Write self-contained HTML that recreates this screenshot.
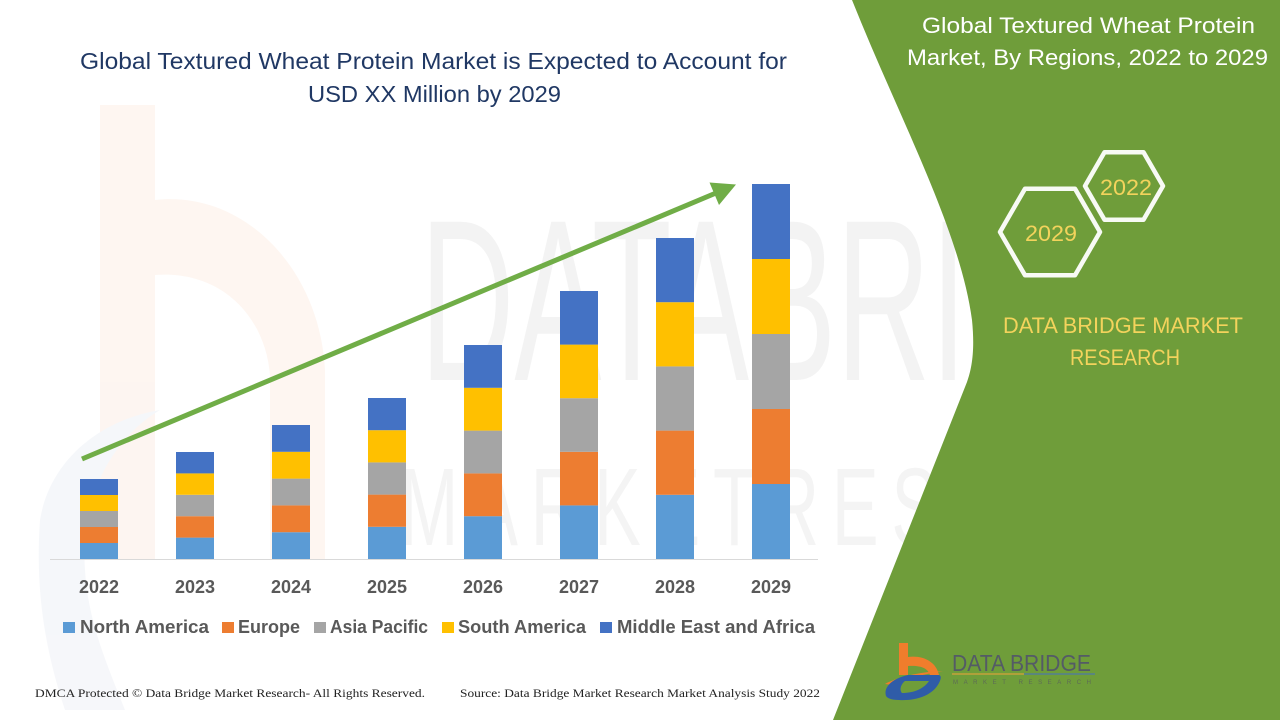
<!DOCTYPE html>
<html>
<head>
<meta charset="utf-8">
<style>
html,body{margin:0;padding:0;background:#fff;}
svg{display:block;}
</style>
</head>
<body>
<svg width="1280" height="720" viewBox="0 0 1280 720" xmlns="http://www.w3.org/2000/svg">
  <rect width="1280" height="720" fill="#ffffff"/>
  <!-- faint watermark -->
  <g opacity="0.55">
    <path d="M100,105 h55 v95 c90,-10 165,70 170,170 l0,190 h-55 l0,-185 c-5,-60 -50,-105 -115,-100 l0,285 h-55 z" fill="#fdeee6"/>
    <path d="M40,520 c10,-60 60,-100 120,-110 c-50,30 -80,90 -75,160 c3,50 20,90 40,140 h-60 c-20,-60 -30,-120 -25,-190 z" fill="#eef1f6"/>
  </g>
  <g font-family="Liberation Sans, sans-serif" fill="#f2f2f2" font-size="230" opacity="0.9">
    <text x="420" y="380" textLength="830" lengthAdjust="spacingAndGlyphs">DATABRIDGE</text>
  </g>
  <g font-family="Liberation Sans, sans-serif" fill="#f3f3f3" font-size="110" opacity="0.9">
    <text x="400" y="545" textLength="860" lengthAdjust="spacingAndGlyphs" letter-spacing="20">MARKETRESEARCH</text>
  </g>

  <!-- green panel -->
  <path d="M852,0 C900,120 960,230 972,320 C975,350 972,368 967,382 L833,720 L1280,720 L1280,0 Z" fill="#6f9d3a"/>

  <!-- main title -->
  <g font-family="Liberation Sans, sans-serif" fill="#203864" font-size="23">
    <text x="80" y="69" textLength="707" lengthAdjust="spacingAndGlyphs">Global Textured Wheat Protein Market is Expected to Account for</text>
    <text x="308" y="102" textLength="253" lengthAdjust="spacingAndGlyphs">USD XX Million by 2029</text>
  </g>

  <!-- axis line -->
  <line x1="50" y1="559.5" x2="818" y2="559.5" stroke="#d9d9d9" stroke-width="1"/>

  <!-- bars -->
  <g>
    <!-- 2022 seg 16 -->
    <rect x="80" y="543" width="38" height="16" fill="#5b9bd5"/>
    <rect x="80" y="527" width="38" height="16" fill="#ed7d31"/>
    <rect x="80" y="511" width="38" height="16" fill="#a5a5a5"/>
    <rect x="80" y="495" width="38" height="16" fill="#ffc000"/>
    <rect x="80" y="479" width="38" height="16" fill="#4472c4"/>
    <!-- 2023 seg 21.4 -->
    <rect x="176" y="537.6" width="38" height="21.4" fill="#5b9bd5"/>
    <rect x="176" y="516.2" width="38" height="21.4" fill="#ed7d31"/>
    <rect x="176" y="494.8" width="38" height="21.4" fill="#a5a5a5"/>
    <rect x="176" y="473.4" width="38" height="21.4" fill="#ffc000"/>
    <rect x="176" y="452" width="38" height="21.4" fill="#4472c4"/>
    <!-- 2024 seg 26.8 -->
    <rect x="272" y="532.2" width="38" height="26.8" fill="#5b9bd5"/>
    <rect x="272" y="505.4" width="38" height="26.8" fill="#ed7d31"/>
    <rect x="272" y="478.6" width="38" height="26.8" fill="#a5a5a5"/>
    <rect x="272" y="451.8" width="38" height="26.8" fill="#ffc000"/>
    <rect x="272" y="425" width="38" height="26.8" fill="#4472c4"/>
    <!-- 2025 seg 32.2 -->
    <rect x="368" y="526.8" width="38" height="32.2" fill="#5b9bd5"/>
    <rect x="368" y="494.6" width="38" height="32.2" fill="#ed7d31"/>
    <rect x="368" y="462.4" width="38" height="32.2" fill="#a5a5a5"/>
    <rect x="368" y="430.2" width="38" height="32.2" fill="#ffc000"/>
    <rect x="368" y="398" width="38" height="32.2" fill="#4472c4"/>
    <!-- 2026 seg 42.8 -->
    <rect x="464" y="516.2" width="38" height="42.8" fill="#5b9bd5"/>
    <rect x="464" y="473.4" width="38" height="42.8" fill="#ed7d31"/>
    <rect x="464" y="430.6" width="38" height="42.8" fill="#a5a5a5"/>
    <rect x="464" y="387.8" width="38" height="42.8" fill="#ffc000"/>
    <rect x="464" y="345" width="38" height="42.8" fill="#4472c4"/>
    <!-- 2027 seg 53.6 -->
    <rect x="560" y="505.4" width="38" height="53.6" fill="#5b9bd5"/>
    <rect x="560" y="451.8" width="38" height="53.6" fill="#ed7d31"/>
    <rect x="560" y="398.2" width="38" height="53.6" fill="#a5a5a5"/>
    <rect x="560" y="344.6" width="38" height="53.6" fill="#ffc000"/>
    <rect x="560" y="291" width="38" height="53.6" fill="#4472c4"/>
    <!-- 2028 seg 64.2 -->
    <rect x="656" y="494.8" width="38" height="64.2" fill="#5b9bd5"/>
    <rect x="656" y="430.6" width="38" height="64.2" fill="#ed7d31"/>
    <rect x="656" y="366.4" width="38" height="64.2" fill="#a5a5a5"/>
    <rect x="656" y="302.2" width="38" height="64.2" fill="#ffc000"/>
    <rect x="656" y="238" width="38" height="64.2" fill="#4472c4"/>
    <!-- 2029 seg 75 -->
    <rect x="752" y="484" width="38" height="75" fill="#5b9bd5"/>
    <rect x="752" y="409" width="38" height="75" fill="#ed7d31"/>
    <rect x="752" y="334" width="38" height="75" fill="#a5a5a5"/>
    <rect x="752" y="259" width="38" height="75" fill="#ffc000"/>
    <rect x="752" y="184" width="38" height="75" fill="#4472c4"/>
  </g>

  <!-- arrow -->
  <line x1="82" y1="459" x2="716" y2="193" stroke="#70ad47" stroke-width="5"/>
  <polygon points="736,184.5 709.5,182.5 719,205" fill="#70ad47"/>

  <!-- year labels -->
  <g font-family="Liberation Sans, sans-serif" font-weight="bold" font-size="18" fill="#595959" text-anchor="middle">
    <text x="99" y="593">2022</text>
    <text x="195" y="593">2023</text>
    <text x="291" y="593">2024</text>
    <text x="387" y="593">2025</text>
    <text x="483" y="593">2026</text>
    <text x="579" y="593">2027</text>
    <text x="675" y="593">2028</text>
    <text x="771" y="593">2029</text>
  </g>

  <!-- legend -->
  <g font-family="Liberation Sans, sans-serif" font-weight="bold" font-size="18" fill="#595959">
    <rect x="63" y="622" width="12" height="11" fill="#5b9bd5"/>
    <text x="80" y="633" textLength="129" lengthAdjust="spacingAndGlyphs">North America</text>
    <rect x="222" y="622" width="12" height="11" fill="#ed7d31"/>
    <text x="238" y="633" textLength="62" lengthAdjust="spacingAndGlyphs">Europe</text>
    <rect x="314" y="622" width="12" height="11" fill="#a5a5a5"/>
    <text x="330" y="633" textLength="98" lengthAdjust="spacingAndGlyphs">Asia Pacific</text>
    <rect x="442" y="622" width="12" height="11" fill="#ffc000"/>
    <text x="458" y="633" textLength="128" lengthAdjust="spacingAndGlyphs">South America</text>
    <rect x="600" y="622" width="12" height="11" fill="#4472c4"/>
    <text x="617" y="633" textLength="198" lengthAdjust="spacingAndGlyphs">Middle East and Africa</text>
  </g>

  <!-- footer -->
  <g font-family="Liberation Serif, serif" font-size="12" fill="#222">
    <text x="35" y="697" textLength="390" lengthAdjust="spacingAndGlyphs">DMCA Protected © Data Bridge Market Research- All Rights Reserved.</text>
    <text x="460" y="697" textLength="360" lengthAdjust="spacingAndGlyphs">Source: Data Bridge Market Research Market Analysis Study 2022</text>
  </g>

  <!-- right panel title -->
  <g font-family="Liberation Sans, sans-serif" font-size="22" fill="#ffffff">
    <text x="922" y="33" textLength="333" lengthAdjust="spacingAndGlyphs">Global Textured Wheat Protein</text>
    <text x="907" y="65" textLength="361" lengthAdjust="spacingAndGlyphs">Market, By Regions, 2022 to 2029</text>
  </g>

  <!-- hexagons -->
  <g fill="none" stroke="#ffffff" stroke-width="4.5" stroke-linejoin="round" opacity="0.95">
    <polygon points="1163,186 1143.5,152.2 1104.5,152.2 1085,186 1104.5,219.8 1143.5,219.8"/>
    <polygon points="1100,232 1075,188.7 1025,188.7 1000,232 1025,275.3 1075,275.3"/>
  </g>
  <g font-family="Liberation Sans, sans-serif" font-size="22" fill="#f3d35c">
    <text x="1100" y="195" textLength="52" lengthAdjust="spacingAndGlyphs">2022</text>
    <text x="1025" y="241" textLength="52" lengthAdjust="spacingAndGlyphs">2029</text>
  </g>
  <g font-family="Liberation Sans, sans-serif" font-size="22" fill="#f3d35c">
    <text x="1003" y="333" textLength="240" lengthAdjust="spacingAndGlyphs">DATA BRIDGE MARKET</text>
    <text x="1070" y="365" textLength="110" lengthAdjust="spacingAndGlyphs">RESEARCH</text>
  </g>

  <!-- bottom logo -->
  <g>
    <path d="M899,643 h9 v14 c14,-2 28,4 31,18 h-9 c-2,-7 -10,-10 -22,-9 v9 h-9 z" fill="#f07d2c"/>
    <path d="M885,684 c15,-8 35,-12 58,-13 c-18,3 -35,7 -50,14 z" fill="#f07d2c"/>
    <path d="M886,696 c-3,-10 8,-18 22,-21 h30 c4,0 3,4 1,8 c-6,12 -22,18 -40,17 c-6,0 -11,-1 -13,-4 z M905,681 c-4,3 -6,9 -3,12 c10,0 21,-3 27,-12 z" fill="#2f5ca8" fill-rule="evenodd"/>
    <text x="952" y="671" font-family="Liberation Sans, sans-serif" font-size="23" fill="#545b66" textLength="139" lengthAdjust="spacingAndGlyphs">DATA BRIDGE</text>
    <line x1="952" y1="674" x2="1024" y2="674" stroke="#d5a23a" stroke-width="1.2"/>
    <line x1="1024" y1="674" x2="1095" y2="674" stroke="#4d79a8" stroke-width="1.2"/>
    <text x="953" y="684" font-family="Liberation Sans, sans-serif" font-size="6" fill="#5d6a56" textLength="138" lengthAdjust="spacing">MARKET RESEARCH</text>
  </g>
</svg>
</body>
</html>
